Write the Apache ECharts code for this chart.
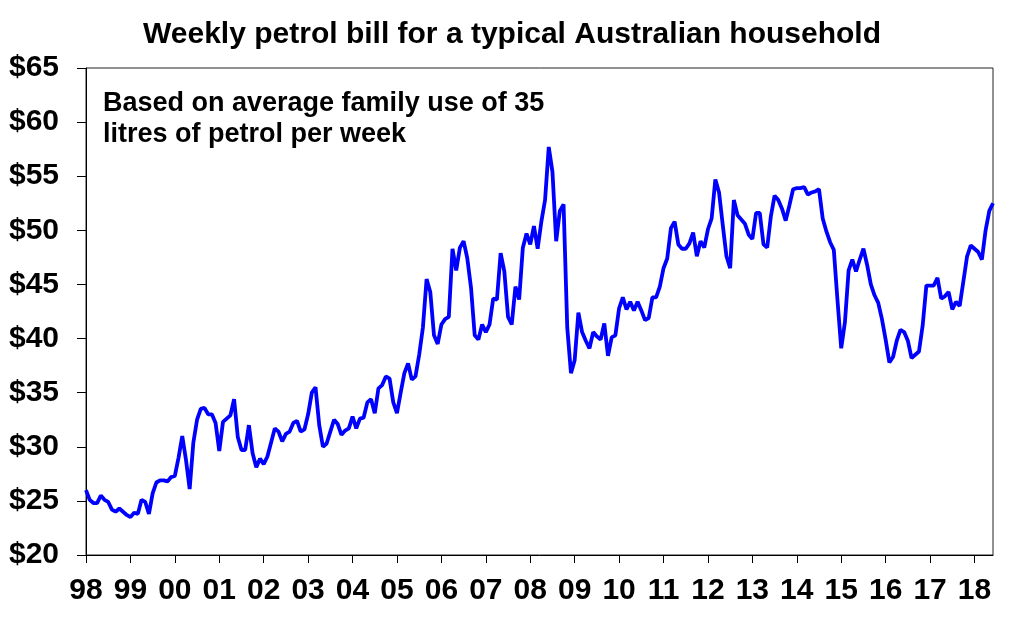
<!DOCTYPE html>
<html>
<head>
<meta charset="utf-8">
<script src="https://cdn.jsdelivr.net/npm/echarts@6/dist/echarts.min.js"></script>
<style>
html, body { margin: 0; padding: 0; background: #fff; }
#chart { width: 1024px; height: 637px; }
</style>
</head>
<body>
<div id="chart"></div>
<script>
// weekly petrol bill, monthly, Jan 1998 - Jun 2018 (A$)
var startYear = 1998;
var petrolBill = [
  26.0, 25.1, 24.8, 24.8, 25.5, 25.1, 24.9, 24.2, 24.0, 24.3, 24.0, 23.7,
  23.5, 23.9, 23.8, 25.1, 24.9, 23.8, 25.7, 26.7, 26.9, 26.9, 26.8, 27.2,
  27.3, 29.0, 31.0, 28.8, 26.1, 30.4, 32.5, 33.5, 33.6, 33.0, 33.0, 32.2,
  29.6, 32.3, 32.6, 32.9, 34.4, 30.9, 29.7, 29.7, 32.0, 29.4, 28.1, 28.9,
  28.4, 29.1, 30.4, 31.7, 31.4, 30.5, 31.2, 31.4, 32.2, 32.4, 31.4, 31.6,
  33.0, 35.0, 35.5, 32.0, 30.0, 30.3, 31.4, 32.5, 32.1, 31.1, 31.5, 31.7,
  32.8, 31.7, 32.6, 32.7, 34.1, 34.4, 33.1, 35.4, 35.7, 36.5, 36.3, 34.1,
  33.1, 35.0, 36.8, 37.7, 36.2, 36.5, 38.5, 41.0, 45.5, 44.3, 40.3, 39.5,
  41.3, 41.8, 42.0, 48.3, 46.3, 48.4, 49.0, 47.4, 44.7, 40.3, 39.9, 41.3,
  40.6, 41.3, 43.7, 43.6, 47.9, 46.2, 42.0, 41.3, 44.8, 43.6, 48.4, 49.7,
  48.7, 50.4, 48.3, 50.8, 52.8, 57.7, 55.4, 49.0, 51.8, 52.4, 41.0, 36.8,
  38.0, 42.4, 40.6, 39.8, 39.1, 40.6, 40.2, 39.9, 41.4, 38.4, 40.1, 40.3,
  42.8, 43.8, 42.7, 43.4, 42.6, 43.4, 42.6, 41.7, 41.9, 43.8, 43.8, 44.8,
  46.5, 47.4, 50.2, 50.8, 48.7, 48.3, 48.3, 48.8, 49.8, 47.6, 49.0, 48.4,
  50.1, 51.1, 54.7, 53.5, 50.5, 47.6, 46.5, 52.8, 51.4, 51.0, 50.6, 49.6,
  49.2, 51.6, 51.6, 48.7, 48.4, 51.3, 53.2, 52.8, 52.0, 50.9, 52.3, 53.8,
  53.9, 53.9, 54.0, 53.3, 53.5, 53.6, 53.8, 51.1, 49.9, 48.9, 48.2, 43.5,
  39.1, 41.5, 46.3, 47.3, 46.2, 47.3, 48.3, 46.8, 45.0, 44.0, 43.3, 41.8,
  39.9, 37.8, 38.3, 39.8, 40.8, 40.6, 39.8, 38.2, 38.5, 38.8, 41.2, 44.9,
  44.9, 44.9, 45.6, 43.7, 43.9, 44.3, 42.7, 43.4, 43.0, 45.3, 47.6, 48.6,
  48.3, 48.0, 47.3, 50.0, 51.8, 52.5
];
var yTicks = [20, 25, 30, 35, 40, 45, 50, 55, 60, 65];

var months = petrolBill.map(function (v, i) {
  var y = startYear + Math.floor(i / 12);
  var m = (i % 12) + 1;
  return y + '-' + (m < 10 ? '0' + m : m);
});

var font = 'Liberation Sans, Arial, Helvetica, sans-serif';
var myChart = echarts.init(document.getElementById('chart'));
var option = {
  backgroundColor: '#fff',
  animation: false,
  title: [{
    text: 'Weekly petrol bill for a typical Australian household',
    left: 'center',
    top: 15,
    textStyle: { fontFamily: font, fontSize: 30, fontWeight: 'bold', color: '#000' }
  }, {
    text: 'Based on average family use of 35\nlitres of petrol per week',
    left: 98,
    top: 83,
    textStyle: { fontFamily: font, fontSize: 27, fontWeight: 'bold', color: '#000', lineHeight: 31 }
  }],
  grid: {
    left: 86,
    right: 31,
    top: 68,
    bottom: 82,
    show: true,
    borderColor: '#222',
    borderWidth: 1
  },
  xAxis: {
    type: 'category',
    boundaryGap: false,
    data: months,
    axisLine: { show: true, lineStyle: { color: '#000', width: 1 } },
    axisTick: { show: true, interval: 11, length: 8, lineStyle: { color: '#000' } },
    axisLabel: {
      interval: 11,
      margin: 21,
      fontFamily: font,
      fontSize: 30,
      fontWeight: 'bold',
      color: '#000',
      formatter: function (v) { return v.slice(2, 4); }
    },
    splitLine: { show: false }
  },
  yAxis: {
    type: 'value',
    min: yTicks[0],
    max: yTicks[yTicks.length - 1],
    interval: 5,
    axisLine: { show: true, lineStyle: { color: '#000', width: 1 } },
    axisTick: { show: true, length: 9, lineStyle: { color: '#000' } },
    axisLabel: {
      margin: 27,
      fontFamily: font,
      fontSize: 30,
      fontWeight: 'bold',
      color: '#000',
      formatter: '${value}'
    },
    splitLine: { show: false }
  },
  series: [{
    type: 'line',
    data: petrolBill,
    showSymbol: false,
    lineStyle: { color: '#0000ff', width: 3.8 },
    itemStyle: { color: '#0000ff' }
  }]
};
myChart.setOption(option);
</script>
</body>
</html>
